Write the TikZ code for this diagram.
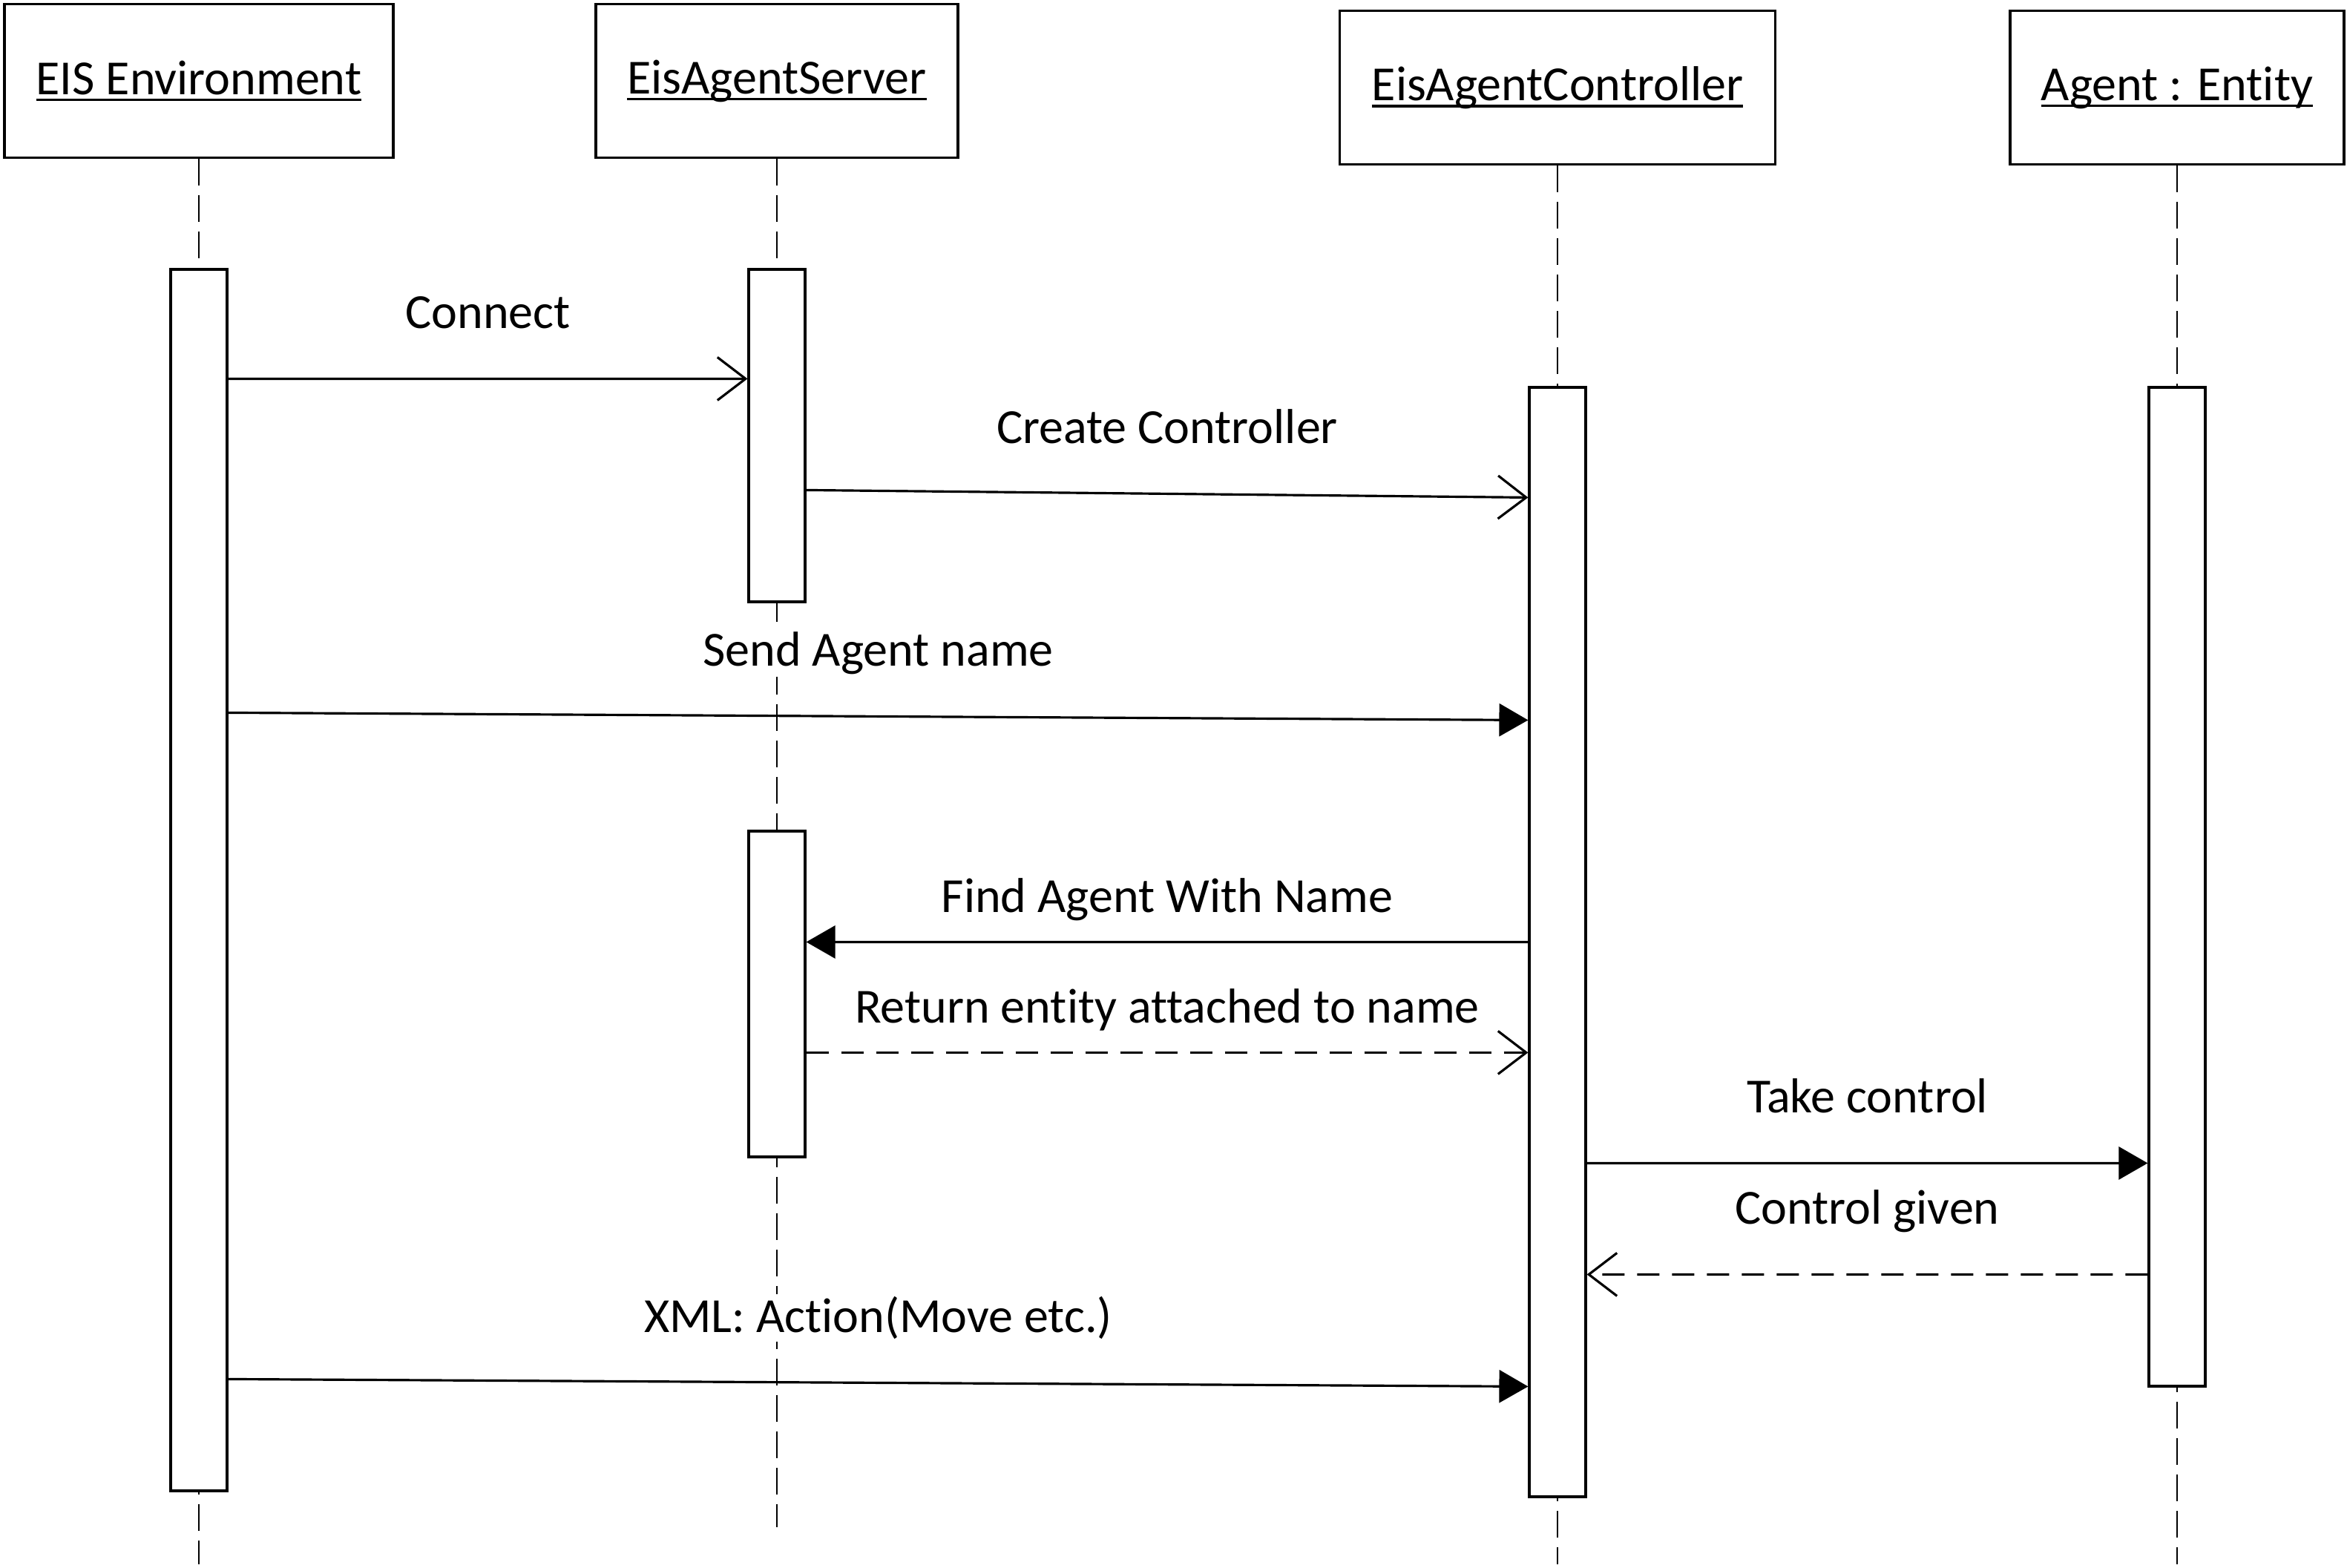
\documentclass[tikz,border=0pt]{standalone}
\usepackage{fontspec}
\setmainfont{Carlito}[Ligatures=NoCommon]
\usepackage{tikz}
\usetikzlibrary{arrows.meta}

\newlength{\ulwd}
\newcommand{\objname}[1]{\settowidth{\ulwd}{#1}#1\llap{\rule[-0.14em]{\ulwd}{0.05em}}}

\begin{document}
\begin{tikzpicture}[
    font=\fontsize{18.8}{22}\selectfont,
    object/.style={draw, line width=0.9pt, minimum height=2.07cm},
    actbar/.style={draw, fill=white, line width=0.9pt, minimum width=0.76cm, inner sep=0pt},
    lifeline/.style={line width=0.8pt, dash pattern=on 0.36cm off 0.13cm},
    syncmsg/.style={line width=0.9pt, -{Triangle[length=3.9mm,width=4.4mm]}},
    openmsg/.style={line width=0.9pt, -{Straight Barb[length=3.8mm,width=5.8mm]}},
    replymsg/.style={openmsg, dash pattern=on 0.3cm off 0.17cm},
    msglabel/.style={midway, anchor=base, fill=white, inner sep=1pt, yshift=0.68cm},
    ]
        \useasboundingbox (0,0) rectangle (31.63,-21.13);

        % EIS Environment
        \node [object,
            minimum width=5.24cm,
        ] (envbox) at (2.68,-1.09){\objname{EIS Environment}};

        % EisAgentServer
        \node [object,
            minimum width=4.88cm,
        ] (srvbox) at (10.47,-1.09){\objname{EisAgentServer}};

        % EisAgentController
        \node [object,
            minimum width=5.87cm,
        ] (ctrlbox) at (20.99,-1.18){\objname{EisAgentController}};

        % Agent : Entity
        \node [object,
            minimum width=4.50cm,
        ] (agbox) at (29.34,-1.18){\objname{Agent : Entity}};

        % lifelines
        \coordinate (envend) at (2.68,-21.08);
        \coordinate (srvend) at (10.47,-20.58);
        \coordinate (ctrlend) at (20.99,-21.08);
        \coordinate (agend) at (29.34,-21.08);
        \draw[lifeline] (envbox) -- (envend);
        \draw[lifeline] (srvbox) -- (srvend);
        \draw[lifeline] (ctrlbox) -- (ctrlend);
        \draw[lifeline] (agbox) -- (agend);

        % activation bars
        \node [actbar, minimum height=16.46cm] (envbar) at (2.68,-11.86){};
        \node [actbar, minimum height=4.48cm] (srvbarA) at (10.47,-5.87){};
        \node [actbar, minimum height=4.39cm] (srvbarB) at (10.47,-13.395){};
        \node [actbar, minimum height=14.95cm] (ctrlbar) at (20.99,-12.695){};
        \node [actbar, minimum height=13.46cm] (agbar) at (29.34,-11.95){};

        % messages
        \draw[openmsg] ([yshift=-1.49cm]envbar.north east)--([yshift=-1.49cm]srvbarA.north west)
        node[msglabel]{Connect};
        \draw[openmsg] ([yshift=-2.99cm]srvbarA.north east)--([yshift=-1.50cm]ctrlbar.north west)
        node[msglabel]{Create Controller};
        \draw[syncmsg] ([yshift=-5.99cm]envbar.north east)--([yshift=-4.50cm]ctrlbar.north west)
        node[msglabel]{Send Agent name};
        \draw[syncmsg] ([yshift=-7.49cm]ctrlbar.north west)--([yshift=-1.51cm]srvbarB.north east)
        node[msglabel, yshift=-0.28cm]{Find Agent With Name};
        \draw[replymsg] ([yshift=-3.00cm]srvbarB.north east)--([yshift=-8.98cm]ctrlbar.north west)
        node[msglabel, yshift=-0.28cm]{Return entity attached to name};
        \draw[syncmsg] ([yshift=-10.47cm]ctrlbar.north east)--([yshift=-10.47cm]agbar.north west)
        node[msglabel]{Take control};
        \draw[replymsg] ([yshift=-11.97cm]agbar.north west)--([yshift=-11.97cm]ctrlbar.north east)
        node[msglabel]{Control given};
        \draw[syncmsg] ([yshift=-14.97cm]envbar.north east)--([yshift=-13.48cm]ctrlbar.north west)
        node[msglabel]{XML: Action(Move etc.)};
\end{tikzpicture}
\end{document}
